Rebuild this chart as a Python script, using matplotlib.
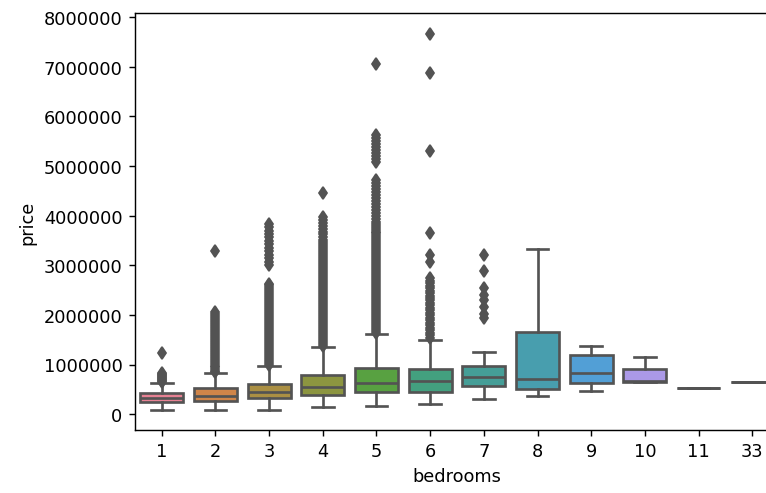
import numpy as np
import matplotlib
matplotlib.use("Agg")
import matplotlib.pyplot as plt
import seaborn as sns

# === dane (cena w tysiącach) ===
bedrooms = ['1', '2', '3', '4', '5', '6', '7', '8', '9', '10', '11', '33']

whislo = [78, 90, 90, 140, 170, 200, 300, 360, 470, 650, 520, 640]
q1 = [240, 265, 320, 390, 440, 440, 560, 500, 620, 655, 520, 640]
med = [320, 374, 450, 545, 630, 660, 740, 700, 820, 660, 520, 640]
q3 = [420, 530, 600, 780, 920, 900, 960, 1660, 1200, 904, 520, 640]
whishi = [620, 820, 980, 1360, 1620, 1500, 1250, 3320, 1380, 1148, 520, 640]

fliers_1 = [650, 670, 690, 710, 730, 750, 770, 790, 810, 830, 1235]
fliers_2 = [840, 870, 900, 940, 980, 1020, 1060, 1100, 1140, 1180, 1220, 1260,
            1300, 1340, 1380, 1420, 1460, 1500, 1540, 1580, 1620, 1660, 1700,
            1740, 1780, 1820, 1860, 1900, 1940, 1980, 2020, 2050, 3280]
fliers_3 = [1000, 1040, 1080, 1120, 1160, 1200, 1240, 1280, 1320, 1360, 1400,
            1440, 1480, 1520, 1560, 1600, 1640, 1680, 1720, 1760, 1800, 1840,
            1880, 1920, 1960, 2000, 2040, 2080, 2120, 2160, 2200, 2240, 2280,
            2320, 2360, 2400, 2440, 2480, 2520, 2560, 2600, 2630,
            3000, 3070, 3140, 3210, 3280, 3350, 3420, 3490, 3560, 3630, 3700,
            3770, 3840]
fliers_4 = [1380, 1420, 1460, 1500, 1540, 1580, 1620, 1660, 1700, 1740, 1780,
            1820, 1860, 1900, 1940, 1980, 2020, 2060, 2100, 2140, 2180, 2220,
            2260, 2300, 2340, 2380, 2420, 2460, 2500, 2540, 2580, 2620, 2660,
            2700, 2740, 2780, 2820, 2860, 2900, 2940, 2980, 3020, 3060, 3100,
            3140, 3180, 3220, 3260, 3300, 3340, 3380, 3420, 3460, 3500, 3560,
            3620, 3680, 3740, 3800, 3860, 3920, 3980, 4460]
fliers_5 = [1640, 1680, 1720, 1760, 1800, 1840, 1880, 1920, 1960, 2000, 2040,
            2080, 2120, 2160, 2200, 2240, 2280, 2320, 2360, 2400, 2440, 2480,
            2520, 2560, 2600, 2640, 2680, 2720, 2760, 2800, 2840, 2880, 2920,
            2960, 3000, 3040, 3080, 3120, 3160, 3200, 3240, 3280, 3320, 3360,
            3400, 3440, 3480, 3520, 3560, 3600, 3640, 3680, 3720, 3760, 3800,
            3840, 3880, 3940, 4000, 4060, 4120, 4180, 4240, 4300, 4360, 4420,
            4480, 4540, 4600, 4660, 4720, 5080, 5140, 5200, 5260, 5320, 5380,
            5440, 5500, 5560, 5620, 7050]
fliers_6 = [1540, 1590, 1640, 1690, 1740, 1790, 1840, 1890, 1940, 1990, 2040,
            2090, 2140, 2190, 2240, 2290, 2340, 2390, 2440, 2490, 2540, 2590,
            2640, 2690, 2740, 3060, 3200, 3640, 5300, 6880, 7660]
fliers_7 = [1940, 2020, 2150, 2300, 2400, 2540, 2880, 3200]
fliers = [fliers_1, fliers_2, fliers_3, fliers_4, fliers_5, fliers_6,
          fliers_7, [], [], [], [], []]

# === statystyki pudełek ===
stats = []
for i in range(len(bedrooms)):
    stats.append(dict(whislo=whislo[i] * 1000, q1=q1[i] * 1000,
                      med=med[i] * 1000, q3=q3[i] * 1000,
                      whishi=whishi[i] * 1000,
                      fliers=np.array(fliers[i]) * 1000))

# kolory jak w seaborn (husl, saturation 0.75)
colors = [sns.desaturate(c, 0.75) for c in sns.color_palette("husl", len(bedrooms))]
lums = [0.2126 * c[0] + 0.7152 * c[1] + 0.0722 * c[2] for c in colors]
gray = (min(lums) * 0.6,) * 3

# === wykres ===
fig = plt.figure(figsize=(6.0, 3.865), dpi=127.8)
ax = fig.add_axes([0.176, 0.1275, 0.84, 0.844])

positions = np.arange(len(bedrooms))
bp = ax.bxp(stats, positions=positions, widths=0.8, patch_artist=True,
            boxprops=dict(edgecolor=gray, linewidth=1.5),
            whiskerprops=dict(color=gray, linewidth=1.5, linestyle='-'),
            capprops=dict(color=gray, linewidth=1.5),
            medianprops=dict(color=gray, linewidth=1.5),
            flierprops=dict(marker='d', markerfacecolor=gray,
                            markeredgecolor=gray, markersize=5,
                            linestyle='none'))
for patch, c in zip(bp['boxes'], colors):
    patch.set_facecolor(c)

ax.set_xticks(positions)
ax.set_xticklabels(bedrooms)
ax.set_xlim(-0.5, len(bedrooms) - 0.5)
ax.set_ylim(-320000, 8080000)
ax.set_yticks(np.arange(0, 8000001, 1000000))
ax.ticklabel_format(style='plain', axis='y', useOffset=False)
ax.set_xlabel("bedrooms")
ax.set_ylabel("price")

fig.savefig("out.png", dpi=127.8)
plt.close()
